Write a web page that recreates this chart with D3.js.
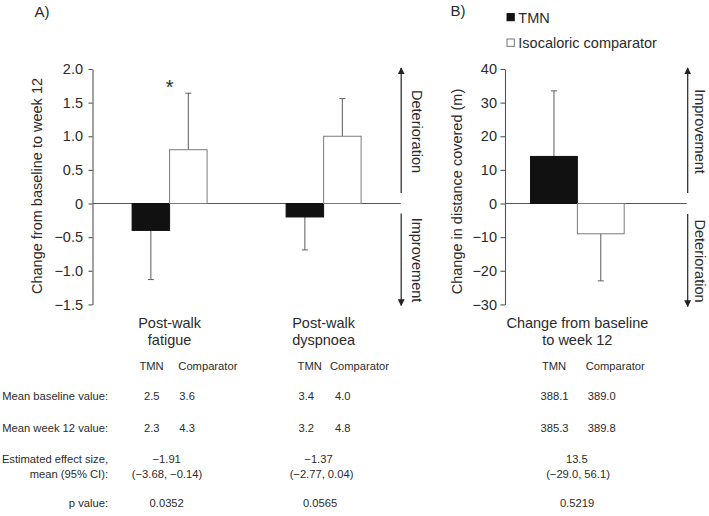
<!DOCTYPE html>
<html>
<head>
<meta charset="utf-8">
<script src="https://cdn.jsdelivr.net/npm/d3@7"></script>
<style>
  html, body { margin: 0; padding: 0; background: #fff; }
  svg { display: block; font-family: "Liberation Sans", Arial, Helvetica, sans-serif; }
</style>
</head>
<body>
<svg id="chart" width="709" height="516"></svg>
<script>
// ---------------- DATA ----------------
const seriesNames = ["TMN", "Isocaloric comparator"];
const categoriesA = ["Post-walk fatigue", "Post-walk dyspnoea"];
const categoryLinesA = [["Post-walk", "fatigue"], ["Post-walk", "dyspnoea"]];
const tmnA = [-0.4, -0.2];
const compA = [0.8, 1.0];
const tmnAErr = [-1.13, -0.69];
const compAErr = [1.64, 1.56];
const ticksA = [2.0, 1.5, 1.0, 0.5, 0, -0.5, -1.0, -1.5];

const categoriesB = ["Change from baseline to week 12"];
const categoryLinesB = [["Change from baseline", "to week 12"]];
const tmnB = [14];
const compB = [-9];
const tmnBErr = [33.5];
const compBErr = [-23];
const ticksB = [40, 30, 20, 10, 0, -10, -20, -30];

const tableRowLabels = [["Mean baseline value:"], ["Mean week 12 value:"], ["Estimated effect size,", "mean (95% CI):"], ["p value:"]];
const baselineTMN = ["2.5", "3.4", "388.1"];
const baselineComp = ["3.6", "4.0", "389.0"];
const week12TMN = ["2.3", "3.2", "385.3"];
const week12Comp = ["4.3", "4.8", "389.8"];
const effectSize = ["\u22121.91", "\u22121.37", "13.5"];
const effectCI = ["(\u22123.68, \u22120.14)", "(\u22122.77, 0.04)", "(\u221229.0, 56.1)"];
const pValues = ["0.0352", "0.0565", "0.5219"];

// ---------------- LAYOUT ----------------
const svg = d3.select("#chart");
const TXT = "#2b2b2b";
const AX = "#555";
const ERR = "#6a6a6a";
const FS = 14.5;
const TFS = 11.2;

const yTop = 69, yBot = 304.4;

// ---- Panel A ----
const xA0 = 92.5, xA1 = 400.7;
const xA = d3.scaleBand().domain(categoriesA).range([xA0, xA1]).paddingInner(0.513).paddingOuter(0.257);
const xAin = d3.scaleBand().domain(seriesNames).range([0, xA.bandwidth()]);
const yA = d3.scaleLinear().domain([-1.5, 2]).range([yBot, yTop]);

const fmtA = d => d === 0 ? "0" : d3.format(".1f")(d);

function styleAxis(g) {
  g.selectAll("path, line").attr("stroke", AX).attr("stroke-width", 1.1);
  g.selectAll("text").attr("fill", TXT).attr("font-size", FS).attr("font-family", "Liberation Sans, Arial, sans-serif");
}

const gA = svg.append("g");
gA.append("g").attr("transform", `translate(${xA0},0)`)
  .call(d3.axisLeft(yA).tickValues(ticksA).tickFormat(fmtA).tickSize(4).tickSizeOuter(0).tickPadding(5.5))
  .call(styleAxis);

// zero line
gA.append("line").attr("x1", xA0).attr("x2", xA1).attr("y1", yA(0)).attr("y2", yA(0))
  .attr("stroke", AX).attr("stroke-width", 1.1);

function drawBars(g, cats, xo, xi, y, tmn, comp, tmnE, compE) {
  cats.forEach((c, i) => {
    const vals = [tmn[i], comp[i]];
    const errs = [tmnE[i], compE[i]];
    seriesNames.forEach((s, j) => {
      const x = xo(c) + xi(s);
      const w = xi.bandwidth();
      const v = vals[j];
      const cx = x + w / 2;
      // error bar (drawn first, cap visible)
      g.append("line").attr("x1", cx).attr("x2", cx).attr("y1", y(v)).attr("y2", y(errs[j]))
        .attr("stroke", ERR).attr("stroke-width", 1.1);
      g.append("line").attr("x1", cx - 3).attr("x2", cx + 3).attr("y1", y(errs[j])).attr("y2", y(errs[j]))
        .attr("stroke", ERR).attr("stroke-width", 1.1);
      g.append("rect")
        .attr("x", x).attr("width", w)
        .attr("y", Math.min(y(v), y(0))).attr("height", Math.abs(y(v) - y(0)))
        .attr("fill", j === 0 ? "#111" : "#fff")
        .attr("stroke", j === 0 ? "#111" : "#7a7a7a").attr("stroke-width", 1);
    });
  });
}
drawBars(gA, categoriesA, xA, xAin, yA, tmnA, compA, tmnAErr, compAErr);

// asterisk
gA.append("text").attr("x", xA(categoriesA[0]) + xAin.bandwidth()).attr("y", yA(compAErr[0]) + 1)
  .attr("text-anchor", "middle").attr("font-size", 20).attr("fill", TXT).text("*");

// y label A
svg.append("text").attr("transform", `translate(41.5,186) rotate(-90)`)
  .attr("text-anchor", "middle").attr("font-size", FS).attr("fill", TXT)
  .text("Change from baseline to week 12");

// ---- arrows ----
const defs = svg.append("defs");
defs.append("marker").attr("id", "ah").attr("viewBox", "0 0 10 10").attr("refX", 9).attr("refY", 5)
  .attr("markerWidth", 7).attr("markerHeight", 7).attr("markerUnits", "userSpaceOnUse").attr("orient", "auto")
  .append("path").attr("d", "M0,0 L10,5 L0,10 Z").attr("fill", "#222");

function arrow(x, y1, y2) {
  svg.append("line").attr("x1", x).attr("x2", x).attr("y1", y1).attr("y2", y2)
    .attr("stroke", "#222").attr("stroke-width", 1.2).attr("marker-end", "url(#ah)");
}
function sideText(x, y, t) {
  svg.append("text").attr("transform", `translate(${x},${y}) rotate(90)`)
    .attr("text-anchor", "middle").attr("font-size", FS).attr("fill", TXT).text(t);
}
arrow(401.2, 193, 68);
arrow(401.2, 213.5, 305.5);
sideText(411.5, 131.5, "Deterioration");
sideText(411.5, 260, "Improvement");

// ---- Panel B ----
const xB0 = 505, xB1 = 686.7;
const xB = d3.scaleBand().domain(categoriesB).range([xB0, xB1]).paddingInner(0).paddingOuter(0.47).align(0.29);
const xBin = d3.scaleBand().domain(seriesNames).range([0, xB.bandwidth()]);
const yB = d3.scaleLinear().domain([-30, 40]).range([yBot, yTop]);

const gB = svg.append("g");
gB.append("g").attr("transform", `translate(${xB0},0)`)
  .call(d3.axisLeft(yB).tickValues(ticksB).tickFormat(d3.format("d")).tickSize(4.5).tickSizeOuter(0).tickPadding(3.5))
  .call(styleAxis);
gB.append("line").attr("x1", xB0).attr("x2", xB1).attr("y1", yB(0)).attr("y2", yB(0))
  .attr("stroke", AX).attr("stroke-width", 1.1);
drawBars(gB, categoriesB, xB, xBin, yB, tmnB, compB, tmnBErr, compBErr);

svg.append("text").attr("transform", `translate(461.5,191.5) rotate(-90)`)
  .attr("text-anchor", "middle").attr("font-size", FS).attr("fill", TXT)
  .text("Change in distance covered (m)");

arrow(687.7, 193, 68);
arrow(687.7, 214, 306.5);
sideText(695, 131.5, "Improvement");
sideText(695, 261, "Deterioration");

// ---- panel letters ----
svg.append("text").attr("x", 34.5).attr("y", 16.8).attr("font-size", 15).attr("fill", TXT).text("A)");
svg.append("text").attr("x", 450.5).attr("y", 16.2).attr("font-size", 15).attr("fill", TXT).text("B)");

// ---- legend ----
const legY = [22.5, 48];
seriesNames.forEach((s, j) => {
  svg.append("rect").attr("x", 507).attr("y", legY[j] - 9).attr("width", 7.3).attr("height", 7.3)
    .attr("fill", j === 0 ? "#111" : "#fff").attr("stroke", j === 0 ? "#111" : "#666").attr("stroke-width", 0.9);
  svg.append("text").attr("x", 518.3).attr("y", legY[j]).attr("font-size", FS).attr("fill", TXT).text(s);
});

// ---- category labels ----
const catCenters = [xA(categoriesA[0]) + xA.bandwidth() / 2, xA(categoriesA[1]) + xA.bandwidth() / 2, xB(categoriesB[0]) + xB.bandwidth() / 2];
const catLines = categoryLinesA.concat(categoryLinesB);
catLines.forEach((lines, i) => {
  lines.forEach((l, k) => {
    svg.append("text").attr("x", catCenters[i]).attr("y", 328.3 + k * 16.8)
      .attr("text-anchor", "middle").attr("font-size", FS).attr("fill", TXT).text(l);
  });
});

// ---- table ----
const tmnHeadX = [151.6, 309.7, 554];
const compHeadX = [178.3, 330, 585.7];
const tmnValX = [151.7, 306.2, 554.5];
const compValX = [179.3, 335, 587.7];
const effX = [166.7, 318.5, 576.8];
const ciX = [167, 321.5, 578];
const pX = [166.7, 320, 577];
const labelRight = 108;

function t(x, y, s, anchor) {
  svg.append("text").attr("x", x).attr("y", y).attr("font-size", TFS).attr("fill", TXT)
    .attr("text-anchor", anchor || "start").text(s);
}
// headers
[0, 1, 2].forEach(i => {
  t(tmnHeadX[i], 370.3, "TMN", "middle");
  t(compHeadX[i], 370.3, "Comparator", "start");
});
// row labels
const rowBase = [400.3, 432.3, 463.3, 506.8];
tableRowLabels.forEach((lines, r) => {
  lines.forEach((l, k) => t(labelRight, rowBase[r] + k * 15, l, "end"));
});
[0, 1, 2].forEach(i => {
  t(tmnValX[i], rowBase[0], baselineTMN[i], "middle");
  t(compValX[i], rowBase[0], baselineComp[i], "start");
  t(tmnValX[i], rowBase[1], week12TMN[i], "middle");
  t(compValX[i], rowBase[1], week12Comp[i], "start");
  t(effX[i], rowBase[2], effectSize[i], "middle");
  t(ciX[i], rowBase[2] + 15, effectCI[i], "middle");
  t(pX[i], rowBase[3], pValues[i], "middle");
});
</script>
</body>
</html>
